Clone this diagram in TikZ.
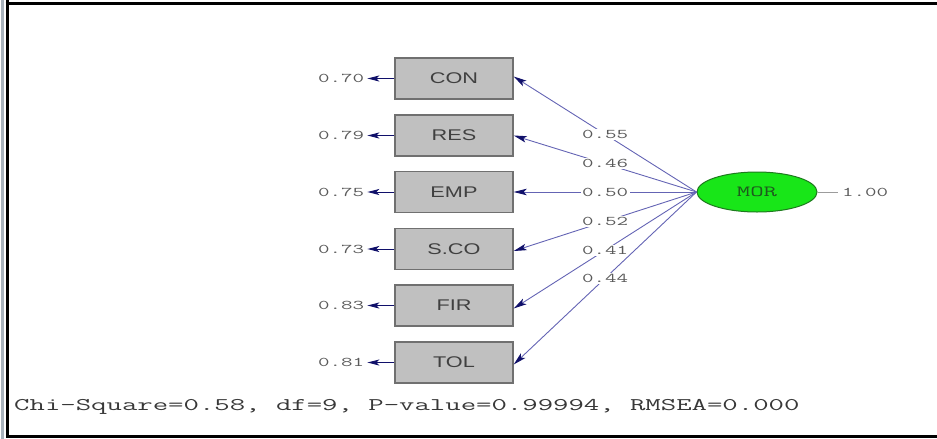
\documentclass[tikz,border=0pt]{standalone}
\usepackage{fontspec}
\usepackage{graphicx}
\usetikzlibrary{shapes.geometric,arrows.meta}
\newfontfamily\sansf{Liberation Sans}
\definecolor{boxfill}{HTML}{C0C0C0}
\definecolor{boxline}{HTML}{707070}
\definecolor{txtgray}{HTML}{404040}
\definecolor{fitgray}{HTML}{383838}
\definecolor{lblgray}{HTML}{5A5A5A}
\definecolor{pathcol}{HTML}{6464B4}
\definecolor{tipcol}{HTML}{10106A}
\definecolor{morfill}{HTML}{18E618}
\definecolor{morline}{HTML}{1E7A1E}
\definecolor{mortxt}{HTML}{1E5A1E}
\definecolor{stripcol}{HTML}{A8B2BC}
\newcommand{\wide}[1]{\scalebox{1.4}[1]{#1}}
\newcommand{\widett}[1]{\scalebox{1.68}[1]{#1}}
\tikzset{
  obsbox/.style={draw=boxline, line width=1.4pt, fill=boxfill, minimum width=118pt, minimum height=41pt, inner sep=0pt,
    font=\sansf\fontsize{15.5}{17}\selectfont, text=txtgray},
  errlbl/.style={anchor=east, inner sep=0pt, font=\ttfamily\fontsize{13.3}{15}\selectfont, text=lblgray},
  coeflbl/.style={fill=white, inner sep=1.5pt, font=\ttfamily\fontsize{13.3}{15}\selectfont, text=lblgray},
  patharrow/.style={draw=pathcol, line width=0.9pt, -{Stealth[length=13pt,width=6.5pt,inset=3pt,color=tipcol]}},
  errarrow/.style={draw=tipcol, line width=1pt, -{Stealth[length=12pt,width=6pt,inset=3pt,color=tipcol]}},
}
\begin{document}
\begin{tikzpicture}[x=1pt,y=-1pt]
\useasboundingbox (0,0) rectangle (937,439);
% frame
\fill[stripcol] (0.5,0) rectangle (4,439);
\draw[black, line width=3pt] (7,0) -- (7,436.5) -- (937,436.5);
\draw[black, line width=3pt] (5.5,3) -- (937,3);
% observed boxes
\node[obsbox] (con) at (454,78.5) {\wide{CON}};
\node[obsbox] (res) at (454,135.5) {\wide{RES}};
\node[obsbox] (emp) at (454,192) {\wide{EMP}};
\node[obsbox] (sco) at (454,249) {\wide{S.CO}};
\node[obsbox] (fir) at (454,305.5) {\wide{FIR}};
\node[obsbox] (tol) at (454,362.5) {\wide{TOL}};
% error variances
\foreach \b/\v in {con/0.70,res/0.79,emp/0.75,sco/0.73,fir/0.83,tol/0.81}{
  \coordinate (e\b) at ([xshift=-27pt]\b.west);
  \draw[errarrow] (\b.west) -- (e\b);
  \node[errlbl] (l\b) at ([xshift=-3pt]e\b) {\widett{\v}};
}
% latent
\node[ellipse, draw=morline, line width=1pt, fill=morfill, minimum width=120pt, minimum height=40pt, inner sep=0pt,
  font=\ttfamily\fontsize{15.5}{17}\selectfont, text=mortxt] (mor) at (757,192) {\widett{MOR}};
\coordinate (mend) at (838,192);
\draw[lblgray!60, line width=0.7pt] (mor.east) -- (mend);
\node[anchor=west, inner sep=0pt, font=\ttfamily\fontsize{13.3}{15}\selectfont, text=lblgray] (one) at (842,192) {\widett{1.00}};
% paths
\draw[patharrow] (mor.west) -- node[coeflbl, pos=0.5] (c1) {\widett{0.55}} ([yshift=2pt]con.east);
\draw[patharrow] (mor.west) -- node[coeflbl, pos=0.5] (c2) {\widett{0.46}} (res.east);
\draw[patharrow] (mor.west) -- node[coeflbl, pos=0.5] (c3) {\widett{0.50}} (emp.east);
\draw[patharrow] (mor.west) -- node[coeflbl, pos=0.5] (c4) {\widett{0.52}} ([yshift=-2pt]sco.east);
\draw[patharrow] (mor.west) -- node[coeflbl, pos=0.5] (c5) {\widett{0.41}} ([yshift=-3pt]fir.east);
\draw[patharrow] (mor.west) -- node[coeflbl, pos=0.5] (c6) {\widett{0.44}} ([yshift=-2pt]tol.east);
% fit statistics
\node[anchor=west, inner sep=0pt, font=\ttfamily\fontsize{17.8}{20}\selectfont, text=fitgray] (fit) at (14,407)
  {\widett{Chi-Square=0.58, df=9, P-value=0.99994, RMSEA=0.000}};
\end{tikzpicture}
\end{document}
